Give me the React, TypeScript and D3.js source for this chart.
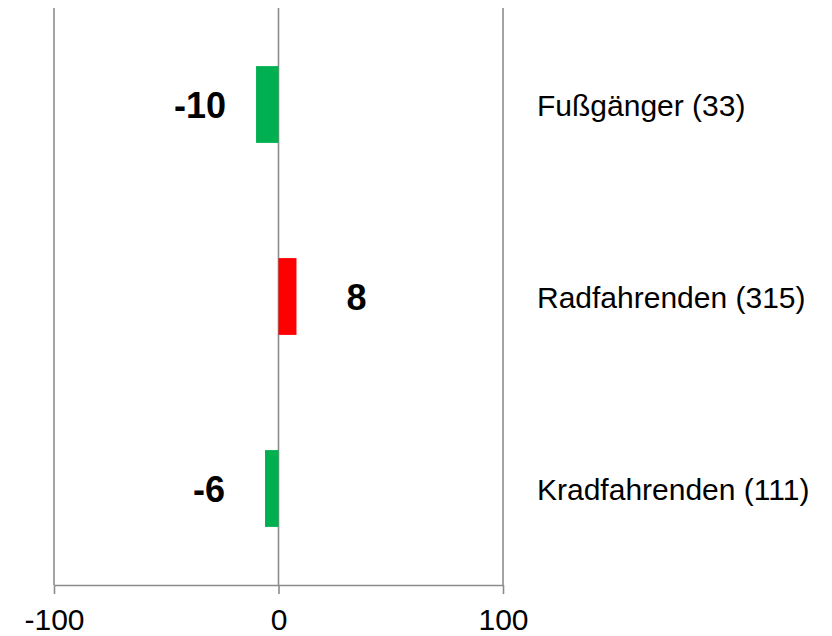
import React, { useEffect, useRef } from 'react';
import * as d3 from 'd3';

const categories = ['Fußgänger (33)', 'Radfahrenden (315)', 'Kradfahrenden (111)'];
const values = [-10, 8, -6];
const tickValues = [-100, 0, 100];

const App = () => {
  const svgRef = useRef<SVGSVGElement>(null);

  useEffect(() => {
    document.body.style.margin = '0';
    const width = 832;
    const height = 636;
    const svg = d3.select(svgRef.current);
    svg.selectAll('*').remove();

    const x = d3.scaleLinear().domain([-100, 100]).range([54, 503]);
    const y = d3
      .scaleBand()
      .domain(categories)
      .range([8.5, 584.5])
      .paddingInner(0.6)
      .paddingOuter(0.3);

    const font = 'Liberation Sans, Arial, sans-serif';
    const grey = '#8c8c8c';

    // vertical gridlines
    svg
      .append('g')
      .selectAll('line')
      .data(tickValues)
      .join('line')
      .attr('x1', d => x(d))
      .attr('x2', d => x(d))
      .attr('y1', 8)
      .attr('y2', 585)
      .attr('stroke', grey)
      .attr('stroke-width', 1.6);

    // bars
    svg
      .append('g')
      .selectAll('rect')
      .data(values)
      .join('rect')
      .attr('x', d => Math.min(x(0), x(d)))
      .attr('y', (d, i) => y(categories[i])!)
      .attr('width', d => Math.abs(x(d) - x(0)))
      .attr('height', y.bandwidth())
      .attr('fill', d => (d < 0 ? '#00b050' : '#ff0000'));

    // x axis
    const axis = svg
      .append('g')
      .attr('transform', `translate(0,585)`)
      .call(
        d3
          .axisBottom(x)
          .tickValues(tickValues)
          .tickFormat(d => String(d))
          .tickSize(9)
          .tickPadding(15)
          .tickSizeOuter(0)
      );
    axis.select('.domain').attr('stroke', grey).attr('stroke-width', 1.6);
    axis.selectAll('.tick line').attr('stroke', grey).attr('stroke-width', 1.6);
    axis
      .selectAll('.tick text')
      .attr('fill', '#000')
      .style('font-family', font)
      .style('font-size', '30px');

    // value labels
    svg
      .append('g')
      .selectAll('text')
      .data(values)
      .join('text')
      .attr('x', d => x(d) + (d < 0 ? -56 : 60))
      .attr('y', (d, i) => y(categories[i])! + y.bandwidth() / 2 + 13)
      .attr('text-anchor', 'middle')
      .style('font-family', font)
      .style('font-weight', 'bold')
      .style('font-size', '36px')
      .attr('fill', '#000')
      .text(d => String(d));

    // category labels
    svg
      .append('g')
      .selectAll('text')
      .data(categories)
      .join('text')
      .attr('x', 537)
      .attr('y', d => y(d)! + y.bandwidth() / 2 + 11)
      .style('font-family', font)
      .style('font-size', '30px')
      .attr('fill', '#000')
      .text(d => d);

    svg.attr('width', width).attr('height', height);
  }, []);

  return <svg ref={svgRef} width={832} height={636} style={{ display: 'block' }} />;
};

export default App;
